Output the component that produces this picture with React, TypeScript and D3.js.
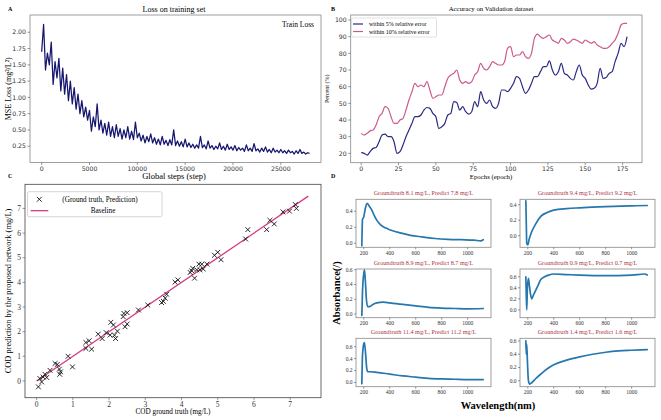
import React from 'react';
import * as d3 from 'd3';

// ---- Panel A: training loss, one value every 200 steps ----
const LOSS_STEP = 200;
const lossValues = [
  1.70, 2.12, 1.42, 1.68, 1.50, 1.85, 1.20, 1.55, 1.30, 1.60, 1.10, 1.45, 1.05, 1.35, 0.95, 1.25, 0.90, 1.15, 0.82, 1.05, 0.75, 0.95, 0.70, 0.85, 0.65,
  0.80, 0.48, 0.70, 0.55, 0.90, 0.50, 0.65, 0.45, 0.60, 0.42, 0.62, 0.40, 0.55, 0.38, 0.58, 0.40, 0.52, 0.36, 0.50, 0.38, 0.55, 0.36, 0.48, 0.35, 0.62,
  0.38, 0.45, 0.33, 0.42, 0.30, 0.40, 0.32, 0.44, 0.30, 0.38, 0.28, 0.36, 0.27, 0.40, 0.28, 0.34, 0.26, 0.35, 0.27, 0.50, 0.26, 0.33, 0.25, 0.32, 0.24,
  0.36, 0.24, 0.30, 0.23, 0.28, 0.22, 0.27, 0.22, 0.40, 0.23, 0.27, 0.21, 0.33, 0.22, 0.26, 0.20, 0.25, 0.21, 0.30, 0.20, 0.25, 0.19, 0.28, 0.20, 0.24,
  0.19, 0.26, 0.18, 0.23, 0.19, 0.22, 0.17, 0.27, 0.18, 0.22, 0.17, 0.29, 0.18, 0.21, 0.16, 0.22, 0.17, 0.24, 0.16, 0.20, 0.15, 0.22, 0.16, 0.19, 0.15,
  0.20, 0.15, 0.18, 0.14, 0.19, 0.15, 0.17, 0.13, 0.18, 0.14, 0.20, 0.14, 0.16, 0.13, 0.15, 0.14,
];
const lossXTicks = [0, 5000, 10000, 15000, 20000, 25000];
const lossYTicks = [0.25, 0.5, 0.75, 1.0, 1.25, 1.5, 1.75, 2.0];

// ---- Panel B: validation accuracy, one value every 2 epochs ----
const EPOCH_STEP = 2;
const acc5 = [
  20.4, 20, 19, 21, 23, 23.5, 27, 31, 31.5, 30, 30, 27, 20, 21, 25, 30, 34, 38, 42, 42,
  43, 46, 47.5, 47, 44, 42, 35, 36, 38, 43, 44, 51, 50.5, 46, 48, 45, 43.5, 45, 51, 48,
  57, 52, 50, 52, 48, 47, 50, 58, 58, 57, 59, 62, 66, 65, 60, 56, 58, 62, 66, 66,
  69, 72, 72, 75.5, 70, 67, 69, 74, 68, 67, 65, 64, 69, 73, 67, 65, 61, 58.5, 59, 62,
  71, 65, 65.5, 68, 69, 75, 80, 86, 84, 90,
];
const acc10 = [
  32, 31, 32, 33.5, 34, 37, 42, 44, 48, 47, 42, 38, 38, 40, 41, 46, 52, 57, 62, 60,
  61, 60, 63, 58, 53, 54, 55, 55, 60, 65, 67, 68, 70, 64, 62, 63, 62, 63, 67, 69,
  74, 71, 70, 72, 75, 74, 73, 73, 75, 83, 84, 78, 79, 79, 81, 78, 77, 80, 89, 91.5,
  90, 89, 90, 91, 88, 87, 86, 89, 88, 86, 87, 88.5, 88, 87, 86, 88, 87, 86, 87, 85,
  84, 83, 83, 84, 86, 88, 92, 97, 98, 98,
];
const epochTicks = [0, 25, 50, 75, 100, 125, 150, 175];
const percentTicks = [20, 30, 40, 50, 60, 70, 80, 90, 100];

// ---- Panel C: ground truth vs prediction ----
const codTruth = [
  0.05, 0.09, 0.14, 0.18, 0.23, 0.28, 0.37, 0.51, 0.57, 0.63, 0.64, 0.66, 0.87, 0.99,
  1.36, 1.36, 1.45, 1.52, 1.70, 1.81, 1.92, 2.03, 2.05, 2.12, 2.15, 2.18, 2.23, 2.39,
  2.41, 2.44, 2.50, 2.50, 2.81, 3.07, 3.45, 3.50, 3.55, 3.59, 3.82, 3.90, 4.24, 4.28,
  4.31, 4.36, 4.42, 4.48, 4.51, 4.56, 4.60, 4.70, 4.91, 5.00, 5.09, 5.77, 5.83, 6.35,
  6.44, 6.56, 6.80, 6.98, 7.14, 7.17,
];
const codPred = [
  -0.24, 0.10, -0.04, 0.16, 0.27, 0.14, 0.43, 0.71, 0.67, 0.48, 0.27, 0.37, 1.00, 0.57,
  1.56, 1.32, 1.63, 1.29, 1.90, 1.72, 1.96, 1.86, 2.38, 2.27, 1.86, 1.72, 2.02, 2.61,
  2.74, 2.20, 2.77, 2.31, 2.88, 3.08, 3.18, 3.23, 3.36, 3.52, 4.01, 4.10, 4.40, 4.47,
  4.57, 4.17, 4.51, 4.74, 4.51, 4.74, 4.54, 4.74, 5.10, 5.22, 4.92, 5.76, 6.14, 6.14,
  6.52, 6.37, 6.86, 6.89, 7.16, 7.00,
];
const baseline = [0, 7.5];
const codTicks = [0, 1, 2, 3, 4, 5, 6, 7];

// ---- Panel D: absorbance spectra [wavelength nm, absorbance] ----
const spec1: [number, number][] = [[185, -0.03], [190, 0.3], [200, 0.33], [210, 0.42], [225, 0.5], [240, 0.47], [260, 0.42], [280, 0.35], [300, 0.29], [330, 0.23], [370, 0.19], [400, 0.17], [480, 0.13], [560, 0.1], [650, 0.08], [750, 0.06], [850, 0.05], [950, 0.045], [1050, 0.04], [1100, 0.03], [1120, 0.045]];
const spec2: [number, number][] = [[185, 0.45], [188, 0.2], [192, -0.1], [200, -0.12], [210, -0.05], [230, 0.05], [260, 0.15], [300, 0.25], [350, 0.3], [400, 0.33], [500, 0.35], [600, 0.36], [800, 0.375], [1000, 0.385], [1120, 0.39]];
const spec3: [number, number][] = [[185, -0.02], [190, 0.3], [200, 0.55], [205, 0.6], [212, 0.45], [220, 0.2], [230, 0.1], [245, 0.1], [270, 0.13], [300, 0.15], [350, 0.16], [400, 0.15], [450, 0.14], [500, 0.13], [600, 0.11], [700, 0.09], [800, 0.08], [900, 0.075], [1000, 0.07], [1120, 0.075]];
const spec4: [number, number][] = [[185, 0.6], [188, 0.3], [192, 0.0], [197, 0.4], [205, 0.57], [212, 0.45], [220, 0.3], [230, 0.2], [240, 0.25], [260, 0.35], [280, 0.45], [300, 0.55], [330, 0.6], [360, 0.63], [400, 0.65], [500, 0.64], [600, 0.63], [800, 0.62], [1000, 0.63], [1100, 0.65], [1120, 0.63]];
const spec5: [number, number][] = [[185, -0.02], [190, 0.45], [200, 0.65], [205, 0.67], [215, 0.45], [222, 0.25], [230, 0.18], [250, 0.18], [300, 0.17], [400, 0.14], [500, 0.11], [600, 0.09], [700, 0.07], [800, 0.06], [900, 0.055], [1000, 0.05], [1120, 0.05]];
const spec6: [number, number][] = [[185, 0.6], [188, 0.4], [192, 0.55], [197, 0.3], [205, 0.0], [215, -0.05], [230, -0.03], [260, 0.03], [300, 0.1], [350, 0.18], [400, 0.24], [500, 0.31], [600, 0.36], [700, 0.4], [800, 0.43], [900, 0.45], [1000, 0.46], [1120, 0.47]];
const spectra = [spec1, spec2, spec3, spec4, spec5, spec6];
const specTruth = [8.1, 9.4, 8.9, 0.9, 11.4, 1.4];
const specPred = [7.8, 9.2, 8.7, 0.7, 11.2, 1.6];
const specYDomains: [number, number][] = [[-0.05, 0.55], [-0.15, 0.47], [-0.05, 0.61], [-0.14, 0.74], [-0.07, 0.74], [-0.09, 0.64]];
const specYTicks = [[0, 0.2, 0.4], [0, 0.2, 0.4], [0, 0.2, 0.4, 0.6], [0, 0.2, 0.4, 0.6], [0, 0.2, 0.4, 0.6], [0, 0.2, 0.4, 0.6]];
const wavelengthTicks = [200, 400, 600, 800, 1000];

const SERIF = '"Liberation Serif", "Times New Roman", serif';
const SANS = '"DejaVu Sans", sans-serif';

function XTicks({ scale, ticks, y, fmt, size, font, len = 2.5 }: any) {
  return (
    <g>
      {ticks.map((t: number) => (
        <g key={t}>
          <line x1={scale(t)} x2={scale(t)} y1={y} y2={y + len} stroke="#555" strokeWidth={0.6} />
          <text x={scale(t)} y={y + len + size * 0.95} fontSize={size} fontFamily={font} textAnchor="middle" fill="#333">{fmt(t)}</text>
        </g>
      ))}
    </g>
  );
}

function YTicks({ scale, ticks, x, fmt, size, font, len = 2.5 }: any) {
  return (
    <g>
      {ticks.map((t: number) => (
        <g key={t}>
          <line x1={x - len} x2={x} y1={scale(t)} y2={scale(t)} stroke="#555" strokeWidth={0.6} />
          <text x={x - len - 1.5} y={scale(t) + size * 0.35} fontSize={size} fontFamily={font} textAnchor="end" fill="#333">{fmt(t)}</text>
        </g>
      ))}
    </g>
  );
}

function Frame({ x0, x1, y0, y1, stroke = '#888' }: any) {
  return <rect x={x0} y={y0} width={x1 - x0} height={y1 - y0} fill="none" stroke={stroke} strokeWidth={0.8} />;
}

export default function App() {
  // Panel A
  const aBox = { x0: 30, x1: 321, y0: 15, y1: 162.5 };
  const xA = d3.scaleLinear().domain([-1220, 29200]).range([aBox.x0, aBox.x1]);
  const yA = d3.scaleLinear().domain([0, 2.265]).range([aBox.y1, aBox.y0]);
  const lossLine = d3.line<number>().x((_, i) => xA(i * LOSS_STEP)).y((d) => yA(d));

  // Panel B
  const bBox = { x0: 350.7, x1: 642, y0: 15, y1: 162.7 };
  const xB = d3.scaleLinear().domain([-7, 188]).range([bBox.x0, bBox.x1]);
  const yB = d3.scaleLinear().domain([14.4, 103]).range([bBox.y1, bBox.y0]);
  const accLine = d3.line<number>().x((_, i) => xB(i * EPOCH_STEP)).y((d) => yB(d)).curve(d3.curveMonotoneX);

  // Panel C
  const cBox = { x0: 25, x1: 321, y0: 184.3, y1: 397.7 };
  const xC = d3.scaleLinear().domain([-0.32, 7.85]).range([cBox.x0, cBox.x1]);
  const yC = d3.scaleLinear().domain([-0.68, 7.98]).range([cBox.y1, cBox.y0]);

  // Panel D
  const cols = [[356, 491], [520, 655]];
  const rows = [[199.3, 247.3], [269, 317.7], [338.3, 386.7]];

  const fmt2 = d3.format('.2f');
  const fmt1 = d3.format('.1f');

  return (
    <svg width={661} height={420} style={{ position: 'absolute', left: 0, top: 0, background: '#fff' }}>
      <rect width={661} height={420} fill="#fff" />

      {/* ===== A ===== */}
      <text x={8} y={11} fontSize={6} fontWeight="bold" fontFamily={SERIF}>A</text>
      <text x={174} y={12} fontSize={8} fontFamily={SERIF} textAnchor="middle">Loss on training set</text>
      <path d={lossLine(lossValues) || ''} fill="none" stroke="#16166e" strokeWidth={1.25} strokeLinejoin="round" />
      <Frame {...aBox} />
      <XTicks scale={xA} ticks={lossXTicks} y={aBox.y1} fmt={(t: number) => String(t)} size={6.2} font={SANS} />
      <YTicks scale={yA} ticks={lossYTicks} x={aBox.x0} fmt={fmt2} size={6.2} font={SANS} />
      <text x={282} y={27} fontSize={7.5} fontFamily={SERIF}>Train Loss</text>
      <text transform={`translate(11,${(aBox.y0 + aBox.y1) / 2}) rotate(-90)`} fontSize={8} fontFamily={SERIF} textAnchor="middle">MSE Loss (mg²/L²)</text>
      <text x={174} y={179} fontSize={8.5} fontFamily={SERIF} textAnchor="middle">Global steps (step)</text>

      {/* ===== B ===== */}
      <text x={331} y={11} fontSize={6} fontWeight="bold" fontFamily={SERIF}>B</text>
      <text x={491} y={11} fontSize={6.8} fontFamily={SERIF} textAnchor="middle">Accuracy on Validation dataset</text>
      <path d={accLine(acc5) || ''} fill="none" stroke="#2a2a82" strokeWidth={1.2} />
      <path d={accLine(acc10) || ''} fill="none" stroke="#cc5a8c" strokeWidth={1.2} />
      <Frame {...bBox} />
      <XTicks scale={xB} ticks={epochTicks} y={bBox.y1} fmt={(t: number) => String(t)} size={6.2} font={SANS} />
      <YTicks scale={yB} ticks={percentTicks} x={bBox.x0} fmt={(t: number) => String(t)} size={6.2} font={SANS} />
      <rect x={351.5} y={18} width={85} height={19} fill="#fff" stroke="#ccc" strokeWidth={0.6} rx={1.5} />
      <line x1={353} x2={363} y1={24} y2={24} stroke="#2a2a82" strokeWidth={1.2} />
      <text x={369} y={26} fontSize={6} fontFamily={SERIF}>within 5% relative error</text>
      <line x1={353} x2={363} y1={31.5} y2={31.5} stroke="#cc5a8c" strokeWidth={1.2} />
      <text x={369} y={33.5} fontSize={6} fontFamily={SERIF}>within 10% relative error</text>
      <text transform={`translate(329,${(bBox.y0 + bBox.y1) / 2}) rotate(-90)`} fontSize={6} fontFamily={SERIF} textAnchor="middle">Percent (%)</text>
      <text x={491} y={179} fontSize={6.8} fontFamily={SERIF} textAnchor="middle">Epochs (epoch)</text>

      {/* ===== C ===== */}
      <text x={8} y={178} fontSize={6} fontWeight="bold" fontFamily={SERIF}>C</text>
      <line x1={xC(baseline[0])} y1={yC(baseline[0])} x2={xC(baseline[1])} y2={yC(baseline[1])} stroke="#d63a84" strokeWidth={1.3} />
      {codTruth.map((t, i) => (
        <path key={i} transform={`translate(${xC(t)},${yC(codPred[i])})`} d="M-2.4,-2.4L2.4,2.4M-2.4,2.4L2.4,-2.4" stroke="#111" strokeWidth={0.9} />
      ))}
      <Frame {...cBox} stroke="#444" />
      <XTicks scale={xC} ticks={codTicks} y={cBox.y1} fmt={(t: number) => String(t)} size={7.5} font={SERIF} />
      <YTicks scale={yC} ticks={codTicks} x={cBox.x0} fmt={(t: number) => String(t)} size={7.5} font={SERIF} />
      <rect x={27.5} y={191.7} width={134.5} height={25} fill="#fff" stroke="#bbb" strokeWidth={0.6} rx={1.5} />
      <path transform="translate(39.3,199.3)" d="M-2.4,-2.4L2.4,2.4M-2.4,2.4L2.4,-2.4" stroke="#111" strokeWidth={0.9} />
      <text x={100} y={201.8} fontSize={7.2} fontFamily={SERIF} textAnchor="middle">(Ground truth, Prediction)</text>
      <line x1={30.7} x2={48.3} y1={210.7} y2={210.7} stroke="#d63a84" strokeWidth={1.3} />
      <text x={103} y={213.2} fontSize={7.2} fontFamily={SERIF} textAnchor="middle">Baseline</text>
      <text transform={`translate(11,${(cBox.y0 + cBox.y1) / 2}) rotate(-90)`} fontSize={8.4} fontFamily={SERIF} textAnchor="middle">COD prediction by the proposed network (mg/L)</text>
      <text x={173} y={414} fontSize={7.2} fontFamily={SERIF} textAnchor="middle">COD ground truth (mg/L)</text>

      {/* ===== D ===== */}
      <text x={331} y={178} fontSize={6} fontWeight="bold" fontFamily={SERIF}>D</text>
      {spectra.map((pts, i) => {
        const [cx0, cx1] = cols[i % 2];
        const [ry0, ry1] = rows[Math.floor(i / 2)];
        const xs = d3.scaleLinear().domain([140, 1180]).range([cx0, cx1]);
        const ys = d3.scaleLinear().domain(specYDomains[i]).range([ry1, ry0]);
        const line = d3.line<[number, number]>().x((d) => xs(d[0])).y((d) => ys(d[1])).curve(d3.curveMonotoneX);
        return (
          <g key={i}>
            <path d={line(pts) || ''} fill="none" stroke="#2577ad" strokeWidth={1.7} strokeLinejoin="round" strokeLinecap="round" />
            <Frame x0={cx0} x1={cx1} y0={ry0} y1={ry1} />
            <XTicks scale={xs} ticks={wavelengthTicks} y={ry1} fmt={(t: number) => String(t)} size={5.5} font={SERIF} len={2} />
            <YTicks scale={ys} ticks={specYTicks[i]} x={cx0} fmt={fmt1} size={5.5} font={SERIF} len={2} />
            <text x={(cx0 + cx1) / 2} y={ry0 - 4.5} fontSize={6.2} fontFamily={SERIF} textAnchor="middle" fill="#ad3547">
              {`Groundtruth ${specTruth[i]} mg/L, Predict ${specPred[i]} mg/L`}
            </text>
          </g>
        );
      })}
      <text transform="translate(340,293) rotate(-90)" fontSize={10.5} fontWeight="bold" fontFamily={SERIF} textAnchor="middle">Absorbance(/)</text>
      <text x={498} y={409} fontSize={10.5} fontWeight="bold" fontFamily={SERIF} textAnchor="middle">Wavelength(nm)</text>
    </svg>
  );
}
